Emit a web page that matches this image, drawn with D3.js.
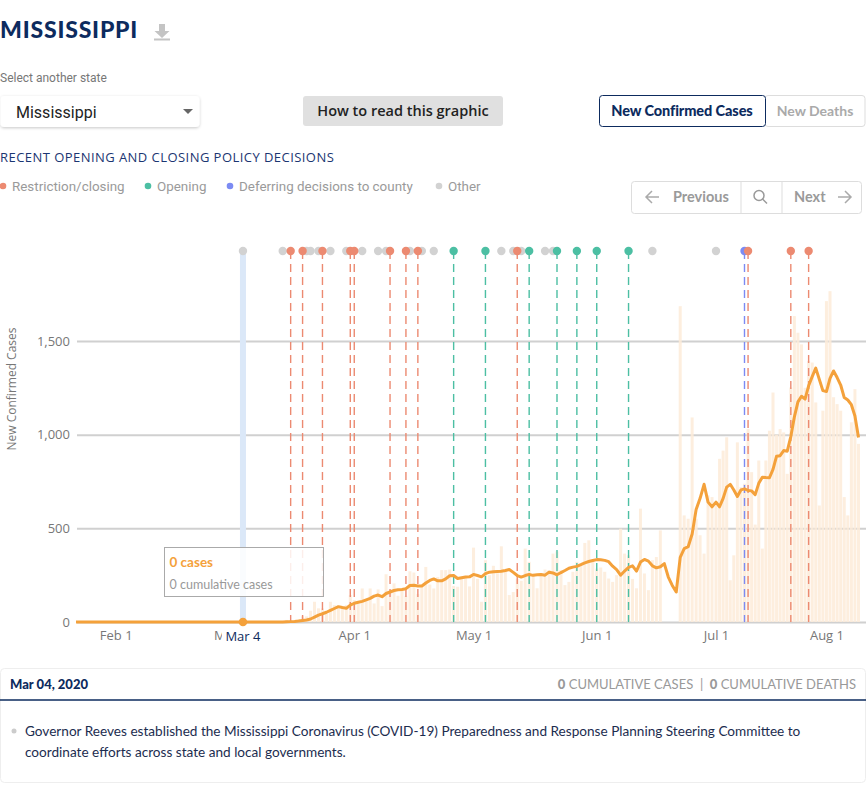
<!DOCTYPE html>
<html>
<head>
<meta charset="utf-8">
<script src="https://cdn.jsdelivr.net/npm/d3@7"></script>
<style>
  body { margin: 0; background: #fff; }
  svg text { font-family: Lato, "Open Sans", sans-serif; }
</style>
</head>
<body>
<svg id="page" width="866" height="785"></svg>
<script>
// ---- data ----
const startDay = "2020-01-22";

// daily new confirmed cases, Jan 22 .. Aug 10
const casesJan = [0,0,0,0,0,0,0,0,0,0];
const casesFeb = [0,0,0,0,0,0,0,0,0,0, 0,0,0,0,0,0,0,0,0,0, 0,0,0,0,0,0,0,0,0];
const casesMar = [0,0,0,0,0,0,0,0,0,0, 1,0,5,4,11,10,9,13,30,30, 60,108,73,73,57,108,90,84,81,91,144];
const casesApr = [117,100,179,120,179,99,174,85,255,167, 206,140,174,140,271,264,150,190,294,200, 179,240,277,277,280,192,188,230,245,190];
const casesMay = [397,230,108,330,250,300,260,404,280,144, 160,230,220,392,321,250,180,255,280,277, 365,377,277,197,214,268,321,300,422,436,330];
const casesJun = [285,291,268,232,214,250,498,365,356,230, 180,605,259,170,330,347,489,0,0,0, 0,1686,569,551,1092,551,463,365,676,667];
const casesJul = [632,871,915,986,223,356,959,720,738,1030, 800,520,862,392,862,1021,1225,1000,1030,1012, 791,1252,1633,1544,1482,1250,1394,1385,1172,622,1128];
const casesAug = [1713,1766,1200,1163,1128,667,569,1066,1243,951];

// 7-day average line, same days
const avgJan = [0,0,0,0,0,0,0,0,0,0];
const avgFeb = [0,0,0,0,0,0,0,0,0,0, 0,0,0,0,0,0,0,0,0,0, 0,0,0,0,0,0,0,0,0];
const avgMar = [0,0,0,0,0,0,0,0,0,0, 0,0,0,0,1,2,3,5,8,11, 16,26,37,44,52,62,72,82,77,73,90];
const avgApr = [100,105,110,118,126,138,144,135,152,160, 168,172,174,178,195,196,192,192,208,222, 230,220,220,230,247,248,232,236,240,241];
const avgMay = [254,248,241,258,266,268,270,271,275,280, 265,248,240,248,254,249,252,254,250,266, 262,252,264,275,287,293,297,306,316,323,328];
const avgJun = [333,332,329,322,298,280,250,272,292,300, 272,320,334,325,300,289,295,312,240,195, 160,345,392,402,470,600,660,735,640,615];
const avgJul = [640,615,660,720,735,705,670,705,711,702, 700,680,740,773,771,770,815,885,888,915, 912,990,1095,1175,1205,1190,1261,1310,1355,1295,1235];
const avgAug = [1230,1300,1340,1305,1265,1198,1185,1160,1100,985];

// policy decisions
const policyDates = ["2020-03-04","2020-03-14","2020-03-16","2020-03-19","2020-03-20","2020-03-21","2020-03-23",
  "2020-03-24","2020-03-26","2020-03-30","2020-03-31","2020-04-01","2020-04-03","2020-04-07","2020-04-09",
  "2020-04-10","2020-04-14","2020-04-15","2020-04-17","2020-04-18","2020-04-21","2020-04-26","2020-05-04",
  "2020-05-08","2020-05-11","2020-05-12","2020-05-13","2020-05-15","2020-05-19","2020-05-21","2020-05-22",
  "2020-05-27","2020-06-01","2020-06-09","2020-06-15","2020-07-01","2020-07-09","2020-07-10","2020-07-22",
  "2020-07-27"];
const policyTypes = ["other","other","closing","closing","other","other","other",
  "closing","other","other","closing","closing","other","other","other",
  "closing","closing","other","closing","other","other","opening","opening",
  "other","other","closing","other","opening","other","other","opening",
  "opening","opening","opening","other","other","county","closing","closing",
  "closing"];

const yTicks = [0, 500, 1000, 1500];
const xTickDates = ["2020-02-01","2020-03-01","2020-04-01","2020-05-01","2020-06-01","2020-07-01","2020-08-01"];
const legendLabels = ["Restriction/closing", "Opening", "Deferring decisions to county", "Other"];
const legendTypes = ["closing", "opening", "county", "other"];
const selectedDay = "2020-03-04";

// ---- setup ----
const parse = d3.timeParse("%Y-%m-%d");
const navy = "#0d2b5e";
const typeColor = {closing: "#ec8a71", opening: "#4cbfa3", county: "#7c8bf3", other: "#d2d2d2"};

const newCases = [].concat(casesJan, casesFeb, casesMar, casesApr, casesMay, casesJun, casesJul, casesAug);
const avgCases = [].concat(avgJan, avgFeb, avgMar, avgApr, avgMay, avgJun, avgJul, avgAug);
const days = newCases.map((v, i) => d3.timeDay.offset(parse(startDay), i));
const rows = days.map((d, i) => ({date: d, cases: newCases[i], avg: avgCases[i]}));

const svg = d3.select("#page");
const defs = svg.append("defs");
const sh = defs.append("filter").attr("id", "shadow")
  .attr("x", "-10%").attr("y", "-30%").attr("width", "120%").attr("height", "170%");
sh.append("feDropShadow").attr("dx", 0).attr("dy", 1).attr("stdDeviation", 1.5)
  .attr("flood-color", "#000").attr("flood-opacity", 0.22);

// ---- header ----
svg.append("text").attr("x", 0).attr("y", 38).text("MISSISSIPPI")
  .attr("font-size", 23).attr("font-weight", 900).attr("fill", navy).attr("letter-spacing", 0.8);
// download icon
svg.append("path").attr("d", "M159 24 h6 v7 h4.5 l-7.5 7 l-7.5 -7 h4.5 z").attr("fill", "#c4c4c4");
svg.append("rect").attr("x", 154).attr("y", 38.5).attr("width", 16).attr("height", 2).attr("fill", "#c4c4c4");

svg.append("text").attr("x", 0).attr("y", 82).text("Select another state")
  .attr("font-size", 12).attr("fill", "#777").style("font-family", "Roboto");

// dropdown
svg.append("rect").attr("x", 0.5).attr("y", 96).attr("width", 199).attr("height", 31).attr("rx", 4)
  .attr("fill", "#fff").attr("filter", "url(#shadow)");
svg.append("text").attr("x", 16).attr("y", 118).text("Mississippi")
  .attr("font-size", 16).attr("fill", "#222").style("font-family", "Roboto");
svg.append("path").attr("d", "M183 109 h10 l-5 5 z").attr("fill", "#666");

// how to read
svg.append("rect").attr("x", 303).attr("y", 96).attr("width", 200).attr("height", 30).attr("rx", 3).attr("fill", "#e0e0e0");
svg.append("text").attr("x", 403).attr("y", 116).attr("text-anchor", "middle").text("How to read this graphic")
  .attr("font-size", 14.5).attr("font-weight", 600).attr("fill", "#222").style("font-family", "'Open Sans'");

// toggle
svg.append("rect").attr("x", 765).attr("y", 95.5).attr("width", 100).attr("height", 31).attr("rx", 3)
  .attr("fill", "#fff").attr("stroke", "#ddd");
svg.append("rect").attr("x", 599.5).attr("y", 95.5).attr("width", 166).attr("height", 31).attr("rx", 3)
  .attr("fill", "#fff").attr("stroke", navy);
svg.append("text").attr("x", 682).attr("y", 116).attr("text-anchor", "middle").text("New Confirmed Cases")
  .attr("font-size", 14.5).attr("font-weight", 900).attr("fill", navy).attr("letter-spacing", -0.1);
svg.append("text").attr("x", 815).attr("y", 116).attr("text-anchor", "middle").text("New Deaths")
  .attr("font-size", 14).attr("font-weight", 700).attr("fill", "#aaa");

// policy title + legend
svg.append("text").attr("x", 0).attr("y", 162).text("RECENT OPENING AND CLOSING POLICY DECISIONS")
  .attr("font-size", 13).attr("font-weight", 500).attr("fill", "#1b3672").attr("letter-spacing", 0.45)
  .style("font-family", "'Open Sans'");

const legendX = [3, 148, 230, 439];
const lg = svg.append("g").selectAll("g").data(legendTypes).enter().append("g")
  .attr("transform", (d, i) => "translate(" + legendX[i] + ",186)");
lg.append("circle").attr("r", 3.3).attr("fill", d => typeColor[d]);
lg.append("text").attr("x", 9).attr("y", 4.5).text((d, i) => legendLabels[i])
  .attr("font-size", 13.4).attr("fill", "#9a9a9a").style("font-family", "Roboto");

// previous / next
svg.append("rect").attr("x", 631.5).attr("y", 181.5).attr("width", 230).attr("height", 32).attr("rx", 3)
  .attr("fill", "#fff").attr("stroke", "#ddd");
svg.append("line").attr("x1", 741).attr("x2", 741).attr("y1", 182).attr("y2", 213).attr("stroke", "#ddd");
svg.append("line").attr("x1", 782).attr("x2", 782).attr("y1", 182).attr("y2", 213).attr("stroke", "#ddd");
svg.append("path").attr("d", "M659 197 h-13 M652 191 l-6 6 l6 6").attr("stroke", "#aaa").attr("stroke-width", 1.5).attr("fill", "none");
svg.append("text").attr("x", 673).attr("y", 202).text("Previous").attr("font-size", 14.5).attr("font-weight", 700).attr("fill", "#9a9a9a");
svg.append("circle").attr("cx", 759).attr("cy", 195.5).attr("r", 5).attr("stroke", "#999").attr("stroke-width", 1.5).attr("fill", "none");
svg.append("line").attr("x1", 762.5).attr("y1", 199).attr("x2", 767).attr("y2", 203.5).attr("stroke", "#999").attr("stroke-width", 1.5);
svg.append("text").attr("x", 794).attr("y", 202).text("Next").attr("font-size", 14.5).attr("font-weight", 700).attr("fill", "#9a9a9a");
svg.append("path").attr("d", "M838 197 h13 M845 191 l6 6 l-6 6").attr("stroke", "#aaa").attr("stroke-width", 1.5).attr("fill", "none");

// ---- chart ----
const x = d3.scaleTime()
  .domain([parse(startDay), parse("2020-07-01"), days[days.length - 1]])
  .range([76, 716, 858.5]);
const y = d3.scaleLinear().domain([0, 1500]).range([622, 341]);

const chart = svg.append("g");

const yAxis = chart.append("g").attr("transform", "translate(77,0)")
  .call(d3.axisLeft(y).tickValues(yTicks).tickFormat(d3.format(",")).tickSize(-(866 - 77)).tickPadding(7));
yAxis.select(".domain").remove();
yAxis.selectAll("line").attr("stroke", "#d0d0d0").attr("stroke-width", 2);
yAxis.selectAll("text").attr("font-size", 13).attr("fill", "#777").style("font-family", "'Open Sans'");

chart.append("text").attr("transform", "translate(16,389) rotate(-90)").attr("text-anchor", "middle")
  .text("New Confirmed Cases").attr("font-size", 12).attr("fill", "#777").style("font-family", "'Open Sans'");

// selected day band
const sel = parse(selectedDay);
chart.append("rect").attr("x", x(sel) - 3).attr("width", 6).attr("y", 251).attr("height", 622 - 251).attr("fill", "#dbe8f8");

// bars
chart.append("g").selectAll("rect").data(rows.filter(d => d.cases > 0)).enter().append("rect")
  .attr("x", d => x(d.date) - 1.5).attr("width", 3)
  .attr("y", d => y(d.cases)).attr("height", d => y(0) - y(d.cases))
  .attr("fill", "#fdebd8").attr("fill-opacity", 0.85);

// policy lines
const policies = policyDates.map((d, i) => ({date: parse(d), type: policyTypes[i]}));
const pol = chart.append("g");
pol.selectAll("line").data(policies.filter(p => p.type !== "other")).enter().append("line")
  .attr("x1", d => x(d.date)).attr("x2", d => x(d.date))
  .attr("y1", 251).attr("y2", 622)
  .attr("stroke", d => typeColor[d.type]).attr("stroke-width", 1.4).attr("stroke-dasharray", "8,5");
const order = {other: 0, opening: 1, closing: 1, county: 1};
pol.selectAll("circle").data(policies.slice().sort((a, b) => order[a.type] - order[b.type])).enter().append("circle")
  .attr("cx", d => x(d.date)).attr("cy", 251).attr("r", 4.2).attr("fill", d => typeColor[d.type]);

// average line
chart.append("path").datum(rows)
  .attr("fill", "none").attr("stroke", "#f4a13b").attr("stroke-width", 3).attr("stroke-linejoin", "round")
  .attr("d", d3.line().x(d => x(d.date)).y(d => y(d.avg)));

chart.append("circle").attr("cx", x(sel)).attr("cy", y(0)).attr("r", 4.3).attr("fill", "#f4a13b");

// x axis
const xAxis = chart.append("g").attr("transform", "translate(0,622)")
  .call(d3.axisBottom(x).tickValues(xTickDates.map(parse)).tickFormat(d3.timeFormat("%b %-d")).tickSize(0).tickPadding(9));
xAxis.select(".domain").remove();
xAxis.selectAll("text").attr("font-size", 13).attr("fill", "#777").style("font-family", "'Open Sans'");

chart.append("rect").attr("x", x(sel) - 21).attr("y", 627).attr("width", 42).attr("height", 19).attr("fill", "#fff");
chart.append("text").attr("x", x(sel)).attr("y", 641).attr("text-anchor", "middle").text(d3.timeFormat("%b %-d")(sel))
  .attr("font-size", 13).attr("fill", navy).style("font-family", "'Open Sans'");

// tooltip
const tip = chart.append("g").attr("transform", "translate(164.5,547.5)");
tip.append("rect").attr("width", 159).attr("height", 49).attr("fill", "#fff").attr("fill-opacity", 0.85).attr("stroke", "#aaa");
tip.append("text").attr("x", 5).attr("y", 19).text("0 cases").attr("font-size", 13.5).attr("font-weight", 700).attr("fill", "#f4a13b");
tip.append("text").attr("x", 5).attr("y", 41).text("0 cumulative cases").attr("font-size", 12.5).attr("fill", "#999");

// ---- detail card ----
svg.append("rect").attr("x", 0.5).attr("y", 668.5).attr("width", 865).attr("height", 114).attr("rx", 4)
  .attr("fill", "#fff").attr("stroke", "#eee");
svg.append("text").attr("x", 10).attr("y", 689).text(d3.timeFormat("%b %d, %Y")(sel))
  .attr("font-size", 13).attr("font-weight", 900).attr("fill", navy);
const totals = svg.append("text").attr("x", 856).attr("y", 689).attr("text-anchor", "end")
  .attr("font-size", 13).attr("fill", "#999").style("white-space", "pre");
totals.append("tspan").text("0").attr("font-weight", 900);
totals.append("tspan").text(" CUMULATIVE CASES  |  ");
totals.append("tspan").text("0").attr("font-weight", 900);
totals.append("tspan").text(" CUMULATIVE DEATHS");
svg.append("line").attr("x1", 0).attr("x2", 866).attr("y1", 700).attr("y2", 700).attr("stroke", navy).attr("stroke-width", 1.5);

svg.append("circle").attr("cx", 14).attr("cy", 731).attr("r", 2.5).attr("fill", "#ccc");
svg.append("text").attr("x", 25).attr("y", 736)
  .text("Governor Reeves established the Mississippi Coronavirus (COVID-19) Preparedness and Response Planning Steering Committee to")
  .attr("font-size", 13.6).attr("fill", "#1c2d4f");
svg.append("text").attr("x", 25).attr("y", 757)
  .text("coordinate efforts across state and local governments.")
  .attr("font-size", 13.6).attr("fill", "#1c2d4f");
</script>
</body>
</html>
